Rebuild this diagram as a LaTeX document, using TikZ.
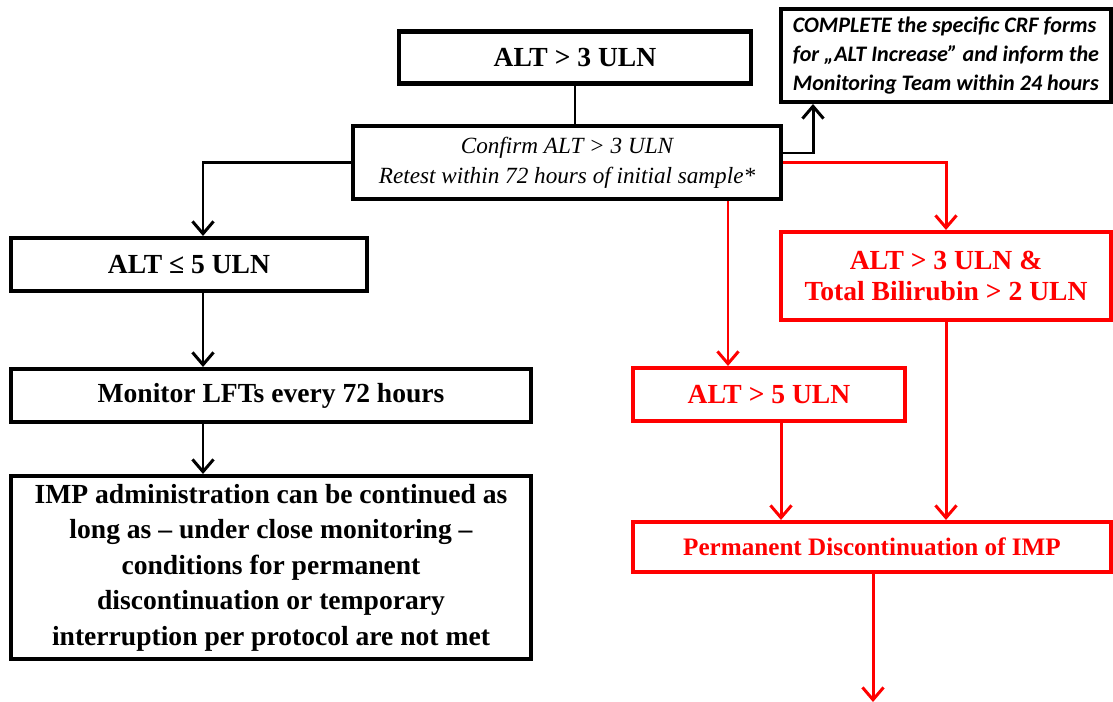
\documentclass[tikz,border=0pt]{standalone}
\usepackage{fontspec}
\setmainfont{Liberation Serif}
\newfontfamily\crffont{Carlito}
\usetikzlibrary{arrows.meta}
\definecolor{alarm}{RGB}{255,0,0}

\begin{document}
\begin{tikzpicture}[x=0.02cm, y=-0.02cm,
    box/.style={draw, line width=2.3pt, align=center, inner sep=0pt, font=\fontsize{15.7}{20}\selectfont\bfseries},
    redbox/.style={box, draw=alarm, text=alarm},
    link/.style={line width=1.7pt},
    arr/.style={link, -{Straight Barb[length=7pt,width=12pt]}},
    redarr/.style={arr, draw=alarm}]
    \useasboundingbox (0,0) rectangle (1113,702);
    % black part
    \node[box, minimum width=7.04cm, minimum height=1.04cm] (top) at (575,57.5) {ALT > 3 ULN};
    \node[box, minimum width=8.56cm, minimum height=1.46cm, font=\fontsize{13.2}{17}\selectfont\itshape] (conf) at (567,162.5) {Confirm ALT > 3 ULN\\Retest within 72 hours of initial sample*};
    \node[box, minimum width=6.60cm, minimum height=1.86cm, align=left, font=\fontsize{12.6}{16.6}\selectfont\crffont\bfseries\itshape] (crf) at (946,55.5) {COMPLETE the specific CRF forms\\for „ALT Increase” and inform the\\Monitoring Team within 24 hours};
    \node[box, minimum width=7.12cm, minimum height=1.06cm] (le5) at (189,264.5) {ALT ≤ 5 ULN};
    \node[box, minimum width=10.40cm, minimum height=1.06cm] (mon) at (271,395.5) {Monitor LFTs every 72 hours};
    \node[box, minimum width=10.40cm, minimum height=3.66cm, font=\fontsize{15.7}{20.2}\selectfont\bfseries] (imp) at (271,567.5) {IMP administration can be continued as\\long as -- under close monitoring --\\conditions for permanent\\discontinuation or temporary\\interruption per protocol are not met};
    % red part
    \node[redbox, minimum width=6.60cm, minimum height=1.76cm, font=\fontsize{15.7}{18.2}\selectfont\bfseries] (bili) at (946,276) {ALT > 3 ULN \&\\Total Bilirubin > 2 ULN};
    \node[redbox, minimum width=5.44cm, minimum height=1.06cm] (gt5) at (769,394.5) {ALT > 5 ULN};
    \node[redbox, minimum width=9.56cm, minimum height=1.00cm, font=\fontsize{14.3}{17}\selectfont\bfseries] (perm) at (872,547) {Permanent Discontinuation of IMP};
    % connectors
    \coordinate (lturn) at (203,162.5);
    \coordinate (crfturn) at (813,153);
    \coordinate (gtdrop) at (728,200);
    \coordinate (gtleg) at (781,420);
    \coordinate (stop) at (873,702);
    \draw[link] (top.south) -- (top.south |- conf.north);
    \draw[arr] (crfturn -| conf.east) -- (crfturn) -- (crfturn |- crf.south);
    \draw[arr] (conf.west) -- (lturn) -- (lturn |- le5.north);
    \draw[arr] (lturn |- le5.south) -- (lturn |- mon.north);
    \draw[arr] (lturn |- mon.south) -- (lturn |- imp.north);
    \draw[redarr] (conf.east) -| (bili.north);
    \draw[redarr] (gtdrop |- conf.south) -- (gtdrop |- gt5.north);
    \draw[redarr] (gtleg |- gt5.south) -- (gtleg |- perm.north);
    \draw[redarr] (bili.south) -- (bili.south |- perm.north);
    \draw[redarr] (stop |- perm.south) -- (stop);
\end{tikzpicture}
\end{document}
